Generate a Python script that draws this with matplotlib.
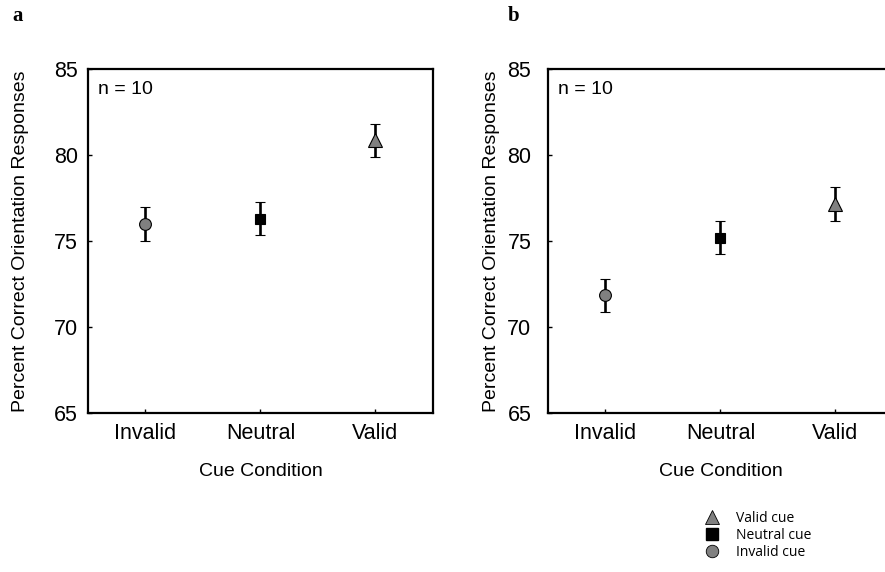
import matplotlib
matplotlib.use("Agg")
import matplotlib.pyplot as plt
from matplotlib.lines import Line2D

plt.rcParams['font.family'] = ['Liberation Sans', 'DejaVu Sans']

# data
conditions = ["Invalid", "Neutral", "Valid"]
means_a = [76.0, 76.3, 80.85]
errs_a = [0.98, 0.95, 0.97]
means_b = [71.85, 75.2, 77.15]
errs_b = [0.95, 0.96, 0.97]
yticks = [65, 70, 75, 80, 85]

markers = ["o", "s", "^"]
colors = ["#808080", "black", "#808080"]
sizes = [8.5, 7, 9.5]

fig = plt.figure(figsize=(8.85, 5.72), dpi=100)
ax_a = fig.add_axes([0.0994, 0.278, 0.3898, 0.6014])
ax_b = fig.add_axes([0.6192, 0.278, 0.3898, 0.6014])

# (axes, means, errors, y tick pad, ylabel x in axes fraction)
panels = [(ax_a, means_a, errs_a, 7, -59 / 345), (ax_b, means_b, errs_b, 12, -48 / 345)]

for ax, means, errs, ypad, labx in panels:
    for i in range(3):
        ax.errorbar(i + 1, means[i], yerr=errs[i], fmt=markers[i], color="black",
                    mfc=colors[i], mec="black", mew=0.8, ms=sizes[i],
                    elinewidth=1.9, capsize=3.3, capthick=1.9, zorder=3)
    ax.set_xlim(0.5, 3.5)
    ax.set_ylim(65, 85)
    ax.set_xticks([1, 2, 3])
    ax.set_xticklabels(conditions)
    ax.set_yticks(yticks)
    ax.tick_params(direction="in", length=3, width=1, labelsize=15.5)
    ax.tick_params(axis="x", pad=7)
    ax.tick_params(axis="y", pad=ypad)
    for s in ax.spines.values():
        s.set_linewidth(1.6)
    ax.set_xlabel("Cue Condition", fontsize=14, labelpad=14)
    ax.set_ylabel("Percent Correct Orientation Responses", fontsize=14)
    ax.yaxis.set_label_coords(labx, 0.5)
    ax.text(0.03, 0.965, "n = 10", transform=ax.transAxes, fontsize=14,
            ha="left", va="top")

fig.text(0.014, 0.99, "a", fontsize=15, fontweight="bold", family="Liberation Serif",
         va="top", ha="left")
fig.text(0.574, 0.99, "b", fontsize=15, fontweight="bold", family="Liberation Serif",
         va="top", ha="left")

handles = [
    Line2D([], [], marker="^", ls="none", mfc="#808080", mec="black", mew=0.6, ms=10),
    Line2D([], [], marker="s", ls="none", mfc="black", mec="black", ms=8),
    Line2D([], [], marker="o", ls="none", mfc="#808080", mec="black", mew=0.6, ms=9),
]
fig.legend(handles, ["Valid cue", "Neutral cue", "Invalid cue"],
           loc="upper left", bbox_to_anchor=(0.795, 0.107), frameon=False,
           prop={"family": "Open Sans", "size": 10}, handletextpad=1.1,
           labelspacing=0.15, borderaxespad=0, borderpad=0, handlelength=1.2)

fig.savefig("out.png", dpi=100)
